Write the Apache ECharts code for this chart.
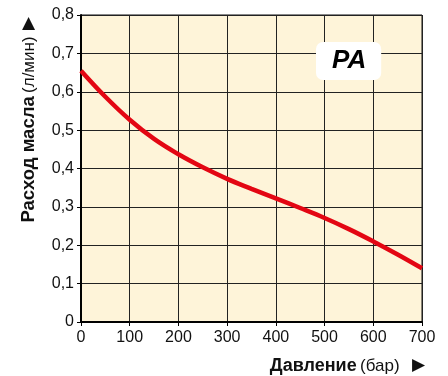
<!DOCTYPE html>
<html>
<head>
<meta charset="utf-8">
<script src="https://cdn.jsdelivr.net/npm/echarts@6/dist/echarts.min.js"></script>
<style>html,body{margin:0;padding:0;background:#fff}#c{width:448px;height:376px}</style>
</head>
<body>
<div id="c"></div>
<script>
var pressure = [0, 50, 100, 150, 200, 250, 300, 350, 400, 450, 500, 550, 600, 650, 700];
var oilFlow = [0.655, 0.587, 0.527, 0.477, 0.437, 0.403, 0.373, 0.347, 0.322, 0.297, 0.271, 0.242, 0.210, 0.176, 0.14];
var xTicks = { min: 0, max: 700, interval: 100 };
var yTicks = { min: 0, max: 0.8, interval: 0.1 };
var seriesLabel = 'PA';

var FONT = '"Liberation Sans", Arial, sans-serif';
var TRI = '"DejaVu Sans", sans-serif';
var chart = echarts.init(document.getElementById('c'), null, { renderer: 'canvas' });
chart.setOption({
  animation: false,
  backgroundColor: '#ffffff',
  title: {
    text: seriesLabel,
    left: 316, top: 42,
    backgroundColor: '#ffffff',
    borderRadius: 7,
    padding: [6, 15, 6, 16],
    textStyle: { fontFamily: FONT, fontSize: 26, fontWeight: 'bold', fontStyle: 'italic', color: '#000', lineHeight: 26 }
  },
  grid: {
    left: 81, right: 26, top: 15, bottom: 54,
    show: true, backgroundColor: '#fef4d9', borderColor: '#111', borderWidth: 1
  },
  xAxis: {
    type: 'value', min: xTicks.min, max: xTicks.max, interval: xTicks.interval,
    axisLine: { show: true, lineStyle: { color: '#000', width: 2 } },
    axisTick: { show: true, length: 4, lineStyle: { color: '#000' } },
    axisLabel: { margin: 8, fontFamily: FONT, fontSize: 16, color: '#111' },
    splitLine: { show: true, lineStyle: { color: '#222', width: 1 } },
    name: '{b|Давление} {r|(бар)} {t|▶}',
    nameLocation: 'end',
    nameGap: 3,
    nameTextStyle: {
      align: 'right', verticalAlign: 'top', padding: [33, 0, 0, 0],
      rich: {
        b: { fontFamily: FONT, fontSize: 18, fontWeight: 'bold', color: '#111', lineHeight: 22 },
        r: { fontFamily: FONT, fontSize: 17, color: '#111', lineHeight: 22 },
        t: { fontFamily: TRI, fontSize: 17, color: '#111', lineHeight: 22, padding: [0, 0, 0, 9] }
      }
    }
  },
  yAxis: {
    type: 'value', min: yTicks.min, max: yTicks.max, interval: yTicks.interval,
    axisLine: { show: true, lineStyle: { color: '#000', width: 2 } },
    axisTick: { show: true, length: 4, lineStyle: { color: '#000' } },
    axisLabel: {
      margin: 7, fontFamily: FONT, fontSize: 16, color: '#111',
      formatter: function (v) { return v === 0 ? '0' : v.toFixed(1).replace('.', ','); }
    },
    splitLine: { show: true, lineStyle: { color: '#222', width: 1 } },
    name: '{b|Расход масла} {r|(л/мин)} {t|▶}',
    nameLocation: 'end',
    nameRotate: 90,
    nameGap: -2,
    nameTextStyle: {
      align: 'right', verticalAlign: 'bottom', padding: [0, 0, 41, 0],
      rich: {
        b: { fontFamily: FONT, fontSize: 18.5, fontWeight: 'bold', color: '#111', lineHeight: 22 },
        r: { fontFamily: FONT, fontSize: 17, color: '#111', lineHeight: 22 },
        t: { fontFamily: TRI, fontSize: 17, color: '#111', lineHeight: 22, padding: [0, 0, 0, 3] }
      }
    }
  },
  series: [{
    type: 'line',
    data: pressure.map(function (p, i) { return [p, oilFlow[i]]; }),
    smooth: 0.4,
    showSymbol: false,
    lineStyle: { color: '#e30613', width: 4.5 },
    z: 3
  }]
});
</script>
</body>
</html>
